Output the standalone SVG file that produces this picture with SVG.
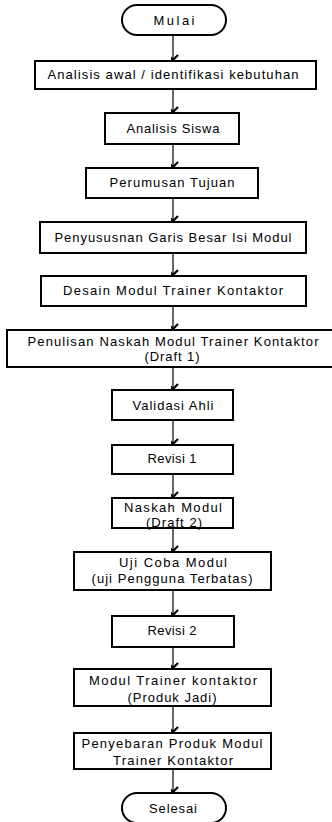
<svg xmlns="http://www.w3.org/2000/svg" width="332" height="822" viewBox="0 0 332 822">
<defs>
<style>
.b{fill:#fff;stroke:#000;stroke-width:2}
.t{font-family:"Liberation Sans","Open Sans",sans-serif;font-size:13px;fill:#000;text-anchor:middle}
.c{stroke:#000;stroke-width:1.2;fill:none;marker-end:url(#ah)}
</style>
<marker id="ah" markerUnits="userSpaceOnUse" markerWidth="14" markerHeight="10" viewBox="-7 -8 14 10" refX="0" refY="0" orient="auto-start-reverse">
<path d="M-5,-5 L0,0 L5,-5" transform="rotate(-90)" fill="none" stroke="#000" stroke-width="2.2"/>
</marker>
</defs>
<rect width="332" height="822" fill="#fff"/>
<g id="connectors">
<line class="c" x1="173" y1="36" x2="173" y2="60"/>
<line class="c" x1="173" y1="90" x2="173" y2="112"/>
<line class="c" x1="173" y1="145" x2="173" y2="167"/>
<line class="c" x1="173" y1="199" x2="173" y2="221"/>
<line class="c" x1="173" y1="254" x2="173" y2="275"/>
<line class="c" x1="173" y1="307" x2="173" y2="329"/>
<line class="c" x1="173" y1="368" x2="173" y2="389"/>
<line class="c" x1="173" y1="421" x2="173" y2="444"/>
<line class="c" x1="173" y1="475" x2="173" y2="497"/>
<line class="c" x1="173" y1="529" x2="173" y2="551"/>
<line class="c" x1="173" y1="591" x2="173" y2="615"/>
<line class="c" x1="173" y1="648" x2="173" y2="668"/>
<line class="c" x1="173" y1="707" x2="173" y2="732"/>
<line class="c" x1="173" y1="770" x2="173" y2="792"/>
</g>
<g id="mulai"><rect class="b" x="122" y="5" width="104" height="30" rx="15"/><text class="t" x="174" y="25" textLength="41">Mulai</text></g>
<g id="analisis-awal"><rect class="b" x="35" y="61" width="281" height="28"/><text class="t" x="173" y="79" textLength="251">Analisis awal / identifikasi kebutuhan</text></g>
<g id="analisis-siswa"><rect class="b" x="105" y="113" width="134" height="31"/><text class="t" x="173" y="133" textLength="93">Analisis Siswa</text></g>
<g id="perumusan"><rect class="b" x="86" y="168" width="172" height="30"/><text class="t" x="172" y="187" textLength="125">Perumusan Tujuan</text></g>
<g id="penyususnan"><rect class="b" x="40" y="222" width="266" height="31"/><text class="t" x="173" y="242" textLength="237">Penyususnan Garis Besar Isi Modul</text></g>
<g id="desain"><rect class="b" x="41" y="276" width="265" height="30"/><text class="t" x="173" y="295" textLength="220">Desain Modul Trainer Kontaktor</text></g>
<g id="penulisan"><rect class="b" x="7" y="330" width="330" height="37"/><text class="t" x="173" y="346" textLength="291">Penulisan Naskah Modul Trainer Kontaktor</text><text class="t" x="172" y="361" textLength="55">(Draft 1)</text></g>
<g id="validasi"><rect class="b" x="112" y="390" width="121" height="30"/><text class="t" x="173" y="410" textLength="81">Validasi Ahli</text></g>
<g id="revisi1"><rect class="b" x="112" y="445" width="121" height="29"/><text class="t" x="172" y="463" textLength="49">Revisi 1</text></g>
<g id="naskah"><rect class="b" x="112" y="498" width="121" height="30"/><text class="t" x="173" y="512" textLength="98">Naskah Modul</text><text class="t" x="174" y="527" textLength="56">(Draft 2)</text></g>
<g id="ujicoba"><rect class="b" x="74" y="552" width="197" height="38"/><text class="t" x="173" y="567" textLength="108">Uji Coba Modul</text><text class="t" x="172" y="583" textLength="161">(uji Pengguna Terbatas)</text></g>
<g id="revisi2"><rect class="b" x="112" y="616" width="122" height="31"/><text class="t" x="172" y="635" textLength="49">Revisi 2</text></g>
<g id="produk-jadi"><rect class="b" x="74" y="669" width="197" height="37"/><text class="t" x="173" y="685" textLength="168">Modul Trainer kontaktor</text><text class="t" x="172" y="702" textLength="89">(Produk Jadi)</text></g>
<g id="penyebaran"><rect class="b" x="74" y="733" width="197" height="36"/><text class="t" x="172" y="748" textLength="181">Penyebaran Produk Modul</text><text class="t" x="173" y="765" textLength="120">Trainer Kontaktor</text></g>
<g id="selesai"><rect class="b" x="122" y="793" width="104" height="30" rx="15"/><text class="t" x="173" y="813" textLength="48">Selesai</text></g>
</svg>
